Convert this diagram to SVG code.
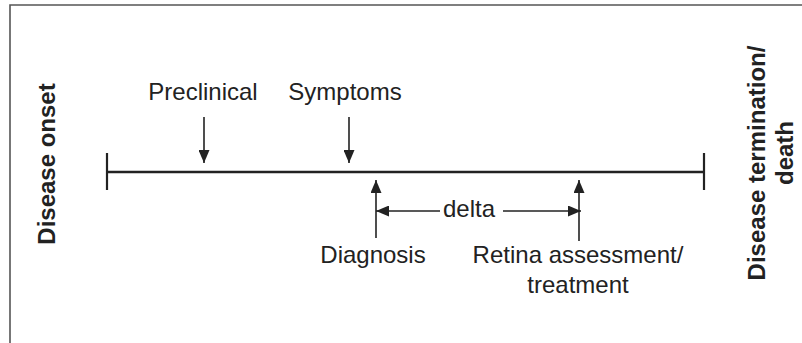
<svg xmlns="http://www.w3.org/2000/svg" width="802" height="343" viewBox="0 0 802 343">
  <style>
    .lbl { font-family: "Liberation Sans", Arial, sans-serif; font-size: 24px; fill: #222; }
    .side { font-family: "Liberation Sans", Arial, sans-serif; font-size: 24px; font-weight: bold; fill: #222; }
    .conn { stroke: #222; stroke-width: 1.6; fill: none; }
    .axis { stroke: #222; stroke-width: 2.6; fill: none; }
    .tick { stroke: #222; stroke-width: 2.2; fill: none; }
  </style>
  <defs>
    <marker id="ah" markerUnits="userSpaceOnUse" viewBox="0 0 13 11" refX="13" refY="5.5" markerWidth="13" markerHeight="11" orient="auto">
      <path d="M0,0 L13,5.5 L0,11 z" fill="#222"/>
    </marker>
  </defs>
  <rect width="802" height="343" fill="#fff"/>
  <path d="M10,343 V5 H802" stroke="#555" stroke-width="1.6" fill="none"/>

  <g id="connectors">
    <line class="axis" x1="107" y1="172" x2="704" y2="172"/>
    <line class="tick" x1="107" y1="153" x2="107" y2="190"/>
    <line class="tick" x1="704" y1="153" x2="704" y2="190"/>
    <line class="conn" x1="204" y1="117" x2="204" y2="163" marker-end="url(#ah)"/>
    <line class="conn" x1="349" y1="117" x2="349" y2="163" marker-end="url(#ah)"/>
    <line class="conn" x1="376" y1="238" x2="376" y2="180" marker-end="url(#ah)"/>
    <line class="conn" x1="579" y1="241" x2="579" y2="180" marker-end="url(#ah)"/>
    <line class="conn" x1="440" y1="211" x2="376" y2="211" marker-end="url(#ah)"/>
    <line class="conn" x1="503" y1="211" x2="581" y2="211" marker-end="url(#ah)"/>
  </g>

  <g id="onset">
    <text class="side" transform="translate(55,164) rotate(-90)" text-anchor="middle">Disease onset</text>
  </g>
  <g id="termination">
    <text class="side" transform="translate(765,163) rotate(-90)" text-anchor="middle">Disease termination/</text>
    <text class="side" transform="translate(793,153) rotate(-90)" text-anchor="middle">death</text>
  </g>
  <g id="preclinical">
    <text class="lbl" x="203" y="100" text-anchor="middle">Preclinical</text>
  </g>
  <g id="symptoms">
    <text class="lbl" x="345" y="100" text-anchor="middle">Symptoms</text>
  </g>
  <g id="diagnosis">
    <text class="lbl" x="373" y="263" text-anchor="middle">Diagnosis</text>
  </g>
  <g id="retina">
    <text class="lbl" x="578" y="263" text-anchor="middle">Retina assessment/</text>
    <text class="lbl" x="578" y="293" text-anchor="middle">treatment</text>
  </g>
  <g id="delta">
    <text class="lbl" x="469" y="217" text-anchor="middle">delta</text>
  </g>
</svg>
